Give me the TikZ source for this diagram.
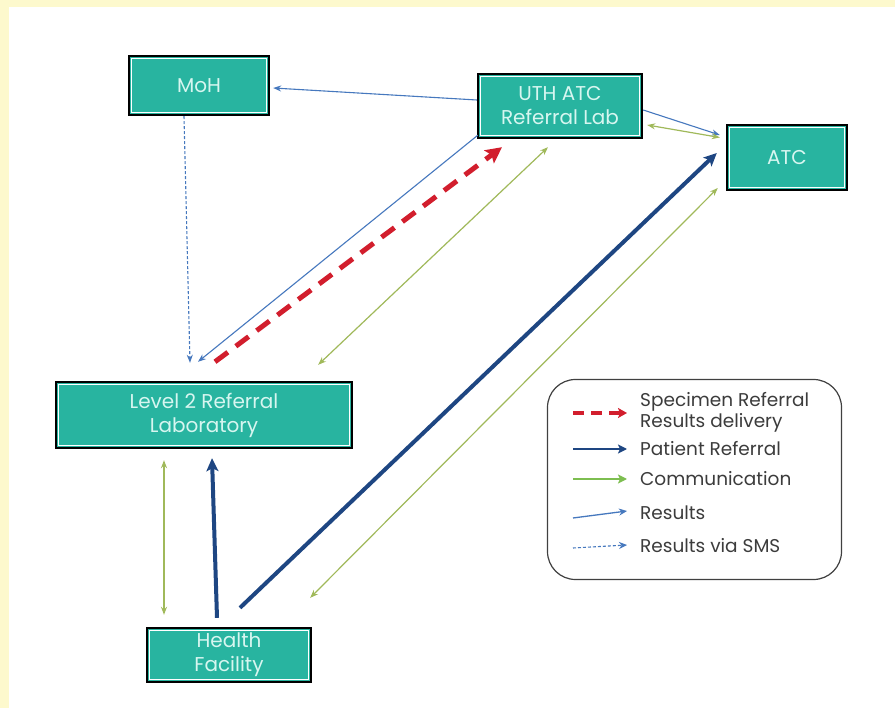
\documentclass[tikz,border=0pt]{standalone}
\usepackage{fontspec}
\setmainfont{Poppins}
\usetikzlibrary{arrows.meta}
\definecolor{tealbox}{RGB}{40,180,160}
\definecolor{boxtext}{RGB}{215,246,240}
\definecolor{resblue}{RGB}{70,120,190}
\definecolor{patblue}{RGB}{30,70,130}
\definecolor{comgreen}{RGB}{160,185,90}
\definecolor{leggreen}{RGB}{125,190,80}
\definecolor{specred}{RGB}{210,30,45}
\definecolor{bgyellow}{RGB}{253,249,205}
\definecolor{legtext}{RGB}{60,60,60}
\tikzset{
  box/.style={draw=black, line width=2.4pt, fill=tealbox, text=boxtext,
    font=\fontsize{20}{24}\selectfont, align=center, inner sep=0pt,
    path picture={\draw[white,line width=1.3pt]
      ([shift={(2.6pt,-2.6pt)}]path picture bounding box.north west) rectangle
      ([shift={(-2.6pt,2.6pt)}]path picture bounding box.south east);}},
  results/.style={draw=resblue, line width=1.1pt, -{Stealth[length=8pt,width=6pt]}},
  sms/.style={results, dash pattern=on 3pt off 2pt},
  comm/.style={draw=comgreen, line width=1.2pt, {Stealth[length=8pt,width=6pt]}-{Stealth[length=8pt,width=6pt]}},
  patient/.style={draw=patblue, line width=4pt, -{Stealth[length=13pt,width=12pt,inset=3pt]}},
  specimen/.style={draw=specred, line width=5pt, dash pattern=on 16pt off 10pt, -{Stealth[length=16pt,width=16pt,inset=3pt]}},
  legtxt/.style={anchor=west, text=legtext, font=\fontsize{18.5}{21}\selectfont, inner sep=0pt, align=left},
}
\begin{document}
\begin{tikzpicture}[x=1pt,y=-1pt]
\fill[bgyellow] (0,0) rectangle (895,708);
\fill[white] (9,7) rectangle (895,708);
\useasboundingbox (0,0) rectangle (895,708);

\node[box, minimum width=140pt, minimum height=59pt] (moh) at (199,85.5) {MoH};
\node[box, minimum width=164pt, minimum height=64pt] (uth) at (560,106) {UTH ATC\\Referral Lab};
\node[box, minimum width=120pt, minimum height=65pt] (atc) at (787,157.5) {ATC};
\node[box, minimum width=296pt, minimum height=66pt] (lvl) at (204,415) {Level 2 Referral\\Laboratory};
\node[box, minimum width=164pt, minimum height=54pt] (hf) at (229,655) {Health\\Facility};

% connectors
\draw[results] ([yshift=6pt]uth.west) -- ([xshift=3pt,yshift=-2.5pt]moh.east);
\draw[sms] ([xshift=-15pt]moh.south) -- ([xshift=-14pt,yshift=18pt]lvl.north);
\draw[results] ([xshift=1pt,yshift=4pt]uth.south west) -- ([xshift=-6pt,yshift=19pt]lvl.north);
\draw[specimen] ([xshift=11pt,yshift=19pt]lvl.north) -- ([xshift=-58pt,yshift=-8pt]uth.south);
\draw[comm] ([xshift=-12pt,yshift=-8pt]uth.south) -- ([xshift=-35pt,yshift=16pt]lvl.north east);
\draw[results] ([yshift=-4pt]uth.east) -- ([xshift=-6pt,yshift=22.5pt]atc.west);
\draw[comm] ([xshift=4pt,yshift=-19pt]uth.east) -- ([xshift=-6pt,yshift=20pt]atc.west);
\draw[patient] ([xshift=11pt,yshift=19pt]hf.north) -- ([xshift=-9pt,yshift=4.5pt]atc.west);
\draw[comm] ([xshift=-2pt,yshift=29pt]hf.north east) -- ([xshift=-8pt,yshift=-30.5pt]atc.west);
\draw[comm] ([xshift=-40pt,yshift=-11pt]lvl.south) -- ([xshift=-65pt,yshift=12pt]hf.north);
\draw[patient] ([xshift=-12pt,yshift=9pt]hf.north) -- ([xshift=8pt,yshift=-9pt]lvl.south);

% legend
\node[draw=black!75, line width=1.2pt, rounded corners=28pt, minimum width=294pt, minimum height=200pt] (leg) at (694.5,479.5) {};
\coordinate (l1a) at (573,413); \coordinate (l1b) at (627,413);
\coordinate (l2a) at (573,449); \coordinate (l2b) at (627,449);
\coordinate (l3a) at (573,479); \coordinate (l3b) at (627,479);
\coordinate (l4a) at (573,518); \coordinate (l4b) at (627,511);
\coordinate (l5a) at (573,548); \coordinate (l5b) at (627,545);
\draw[draw=specred, line width=3.5pt, dash pattern=on 11pt off 7pt, -{Stealth[length=9pt,width=10pt,inset=2pt]}] (l1a) -- (l1b);
\draw[draw=patblue, line width=2.6pt, -{Stealth[length=9pt,width=9pt,inset=2pt]}] (l2a) -- (l2b);
\draw[draw=leggreen, line width=2.6pt, -{Stealth[length=9pt,width=9pt,inset=2pt]}] (l3a) -- (l3b);
\draw[draw=resblue, line width=1.3pt, -{Stealth[length=8pt,width=7pt]}] (l4a) -- (l4b);
\draw[draw=resblue, line width=1.1pt, dash pattern=on 3pt off 2pt, -{Stealth[length=8pt,width=7pt]}] (l5a) -- (l5b);
\node[legtxt] (t1) at (640,402) {Specimen Referral};
\node[legtxt] (t1b) at (640,423) {Results delivery};
\node[legtxt] (t2) at (640,449) {Patient Referral};
\node[legtxt] (t3) at (640,479) {Communication};
\node[legtxt] (t4) at (640,513) {Results};
\node[legtxt] (t5) at (640,546) {Results via SMS};
\end{tikzpicture}
\end{document}
